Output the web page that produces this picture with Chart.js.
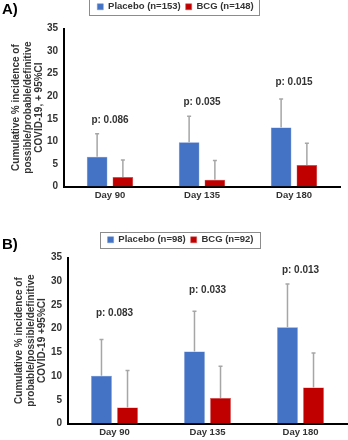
<!DOCTYPE html>
<html lang="en">

<head>
    <meta charset="UTF-8" />
    <title>Cumulative incidence of COVID-19 - Placebo vs BCG</title>
    <script src="https://cdn.jsdelivr.net/npm/chart.js"></script>
    <style>
        body { margin: 0; background: #fff; font-family: "Liberation Sans", Arial, sans-serif; }
        .panel { position: absolute; left: 0; width: 348px; }
        .tag { position: absolute; left: 2px; font-weight: bold; font-size: 15px; color: #000; }
    </style>
</head>

<body>
    <div class="panel" style="top:0;height:215px">
        <canvas id="chartA" width="348" height="215"></canvas>
        <div class="tag" style="top:0px">A)</div>
    </div>
    <div class="panel" style="top:220px;height:220px">
        <canvas id="chartB" width="348" height="220"></canvas>
        <div class="tag" style="top:15px">B)</div>
    </div>

    <script>
        const days = ["Day 90", "Day 135", "Day 180"];
        const yTicks = [0, 5, 10, 15, 20, 25, 30, 35];

        // panel A
        const placeboA = [6.6, 9.8, 13.1];
        const placeboA_ci = [11.7, 15.6, 19.4];
        const bcgA = [2.1, 1.5, 4.8];
        const bcgA_ci = [5.9, 5.8, 9.6];
        const pTextA = ["p: 0.086", "p: 0.035", "p: 0.015"];
        const pYA = [14.6, 18.7, 23.0];

        // panel B
        const placeboB = [10.1, 15.2, 20.3];
        const placeboB_ci = [17.7, 23.7, 29.4];
        const bcgB = [3.4, 5.4, 7.6];
        const bcgB_ci = [11.2, 12.1, 14.9];
        const pTextB = ["p: 0.083", "p: 0.033", "p: 0.013"];
        const pYB = [23.3, 28.0, 32.4];

        const azul = "#4472C4";
        const rojo = "#C00000";

        // error bars (upper only) + p-value labels + legend frame
        const extras = {
            id: "extras",
            afterInit(chart, args, opts) {
                // a bit more room under the legend
                const lg = chart.legend;
                const fitOrig = lg.fit;
                lg.fit = function () {
                    fitOrig.call(this);
                    this.height += opts.legendExtra;
                };
            },
            afterDatasetsDraw(chart, args, opts) {
                const ctx = chart.ctx;
                const y = chart.scales.y;
                ctx.save();
                ctx.strokeStyle = "#a6a6a6";
                ctx.lineWidth = 1.5;
                chart.data.datasets.forEach((ds, i) => {
                    const meta = chart.getDatasetMeta(i);
                    meta.data.forEach((bar, j) => {
                        const top = y.getPixelForValue(ds.ci[j]);
                        ctx.beginPath();
                        ctx.moveTo(bar.x, bar.y);
                        ctx.lineTo(bar.x, top);
                        ctx.moveTo(bar.x - 2, top);
                        ctx.lineTo(bar.x + 2, top);
                        ctx.stroke();
                    });
                });
                ctx.fillStyle = "#333";
                ctx.font = "bold 10px 'Liberation Sans', Arial, sans-serif";
                ctx.textAlign = "center";
                ctx.textBaseline = "middle";
                const x = chart.scales.x;
                opts.texts.forEach((t, j) => {
                    ctx.fillText(t, x.getPixelForValue(j), y.getPixelForValue(opts.ys[j]));
                });
                // frame round the legend items
                const cajas = chart.legend.legendHitBoxes;
                const izq = Math.min(...cajas.map(b => b.left)) - 8;
                const der = Math.max(...cajas.map(b => b.left + b.width)) + 6;
                const arr = Math.min(...cajas.map(b => b.top)) - 3;
                const aba = Math.max(...cajas.map(b => b.top + b.height)) + 3;
                ctx.strokeStyle = "#8c8c8c";
                ctx.lineWidth = 1;
                ctx.strokeRect(Math.round(izq) + 0.5, Math.round(arr) + 0.5, Math.round(der - izq), Math.round(aba - arr));
                ctx.restore();
            }
        };

        function graficar(id, plac, placCi, bcg, bcgCi, nP, nB, pTexts, pYs, pad, anchoY, extraLeyenda, tituloY) {
            const fuente = { family: "'Liberation Sans', Arial, sans-serif", weight: "bold", size: 10 };
            return new Chart(document.getElementById(id), {
                type: "bar",
                data: {
                    labels: days,
                    datasets: [
                        { label: "Placebo (n=" + nP + ")", data: plac, ci: placCi, backgroundColor: azul, borderColor: "#6d90d3", borderWidth: 0.5 },
                        { label: "BCG (n=" + nB + ")", data: bcg, ci: bcgCi, backgroundColor: rojo, borderColor: "#d04a4a", borderWidth: 0.5 }
                    ]
                },
                plugins: [extras],
                options: {
                    responsive: false,
                    animation: false,
                    layout: { padding: pad },
                    datasets: { bar: { categoryPercentage: 0.56, barPercentage: 0.8 } },
                    plugins: {
                        tooltip: { enabled: false },
                        extras: { texts: pTexts, ys: pYs, legendExtra: extraLeyenda },
                        legend: {
                            position: "top",
                            labels: {
                                boxWidth: 6, boxHeight: 6, padding: 5,
                                color: "#333", font: { family: fuente.family, weight: "bold", size: 9.5 }
                            }
                        }
                    },
                    scales: {
                        x: {
                            grid: { display: false, drawTicks: false },
                            border: { color: "#000", width: 2 },
                            ticks: { color: "#333", font: { family: fuente.family, weight: "bold", size: 9.5 }, padding: 3 }
                        },
                        y: {
                            min: 0, max: 35,
                            afterBuildTicks: axis => { axis.ticks = yTicks.map(v => ({ value: v })); },
                            afterFit: axis => { axis.width = anchoY; },
                            grid: { display: false, drawTicks: false },
                            border: { color: "#000", width: 2 },
                            ticks: { color: "#333", font: fuente, padding: 6 },
                            title: {
                                display: true,
                                text: tituloY,
                                color: "#333",
                                font: { family: fuente.family, weight: "bold", size: 10, lineHeight: 1.12 },
                                padding: { top: 0, bottom: 0 }
                            }
                        }
                    }
                }
            });
        }

        graficar("chartA", placeboA, placeboA_ci, bcgA, bcgA_ci, 153, 148, pTextA, pYA,
            { top: -3, left: 11, right: 8, bottom: 11 }, 53, 7,
            ["Cumulative % incidence of", "possible/probable/definitive", "COVID-19, + 95%CI"]);

        graficar("chartB", placeboB, placeboB_ci, bcgB, bcgB_ci, 98, 92, pTextB, pYB,
            { top: 10, left: 14, right: 1, bottom: -1 }, 54, 3,
            ["Cumulative % incidence of", "probable/possible/definitive", "COVID-19 +95%CI"]);
    </script>
</body>

</html>
